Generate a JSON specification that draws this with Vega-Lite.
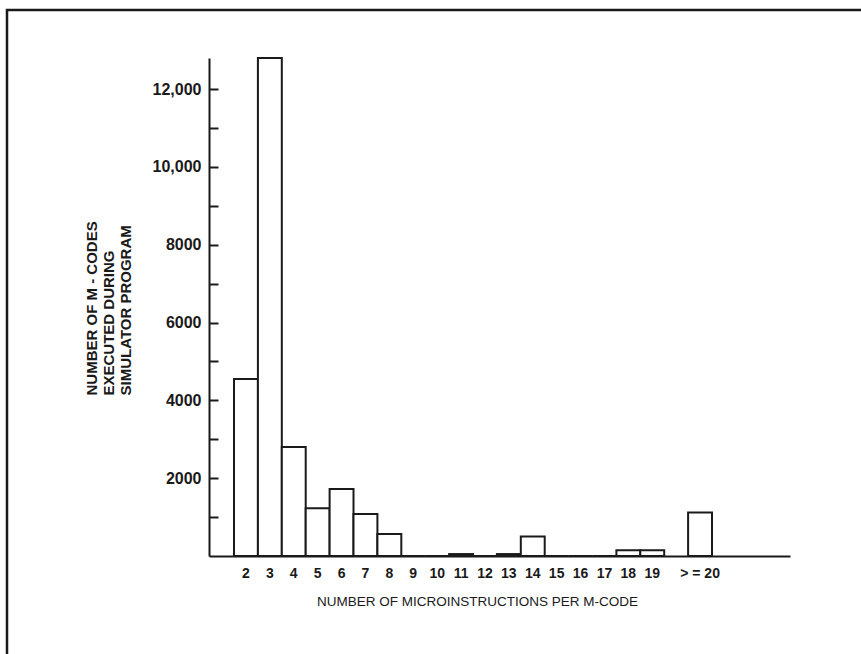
{
  "$schema": "https://vega.github.io/schema/vega-lite/v6.json",
  "width": 858,
  "height": 648,
  "autosize": "none",
  "padding": {"left": 7, "top": 10, "right": -4, "bottom": -4},
  "background": "white",
  "config": {
    "view": {"stroke": "#1a1a1a", "strokeWidth": 2.5},
    "font": "Liberation Sans"
  },
  "data": {
    "values": [
      {"m": "2", "n": 4550},
      {"m": "3", "n": 12800},
      {"m": "4", "n": 2800},
      {"m": "5", "n": 1230},
      {"m": "6", "n": 1720},
      {"m": "7", "n": 1080},
      {"m": "8", "n": 565},
      {"m": "9", "n": 0},
      {"m": "10", "n": 0},
      {"m": "11", "n": 50},
      {"m": "12", "n": 0},
      {"m": "13", "n": 50},
      {"m": "14", "n": 500},
      {"m": "15", "n": 0},
      {"m": "16", "n": 0},
      {"m": "17", "n": 0},
      {"m": "18", "n": 150},
      {"m": "19", "n": 150},
      {"m": "> = 20", "n": 1120}
    ]
  },
  "mark": {"type": "bar", "fill": "white", "stroke": "#1a1a1a", "strokeWidth": 2},
  "encoding": {
    "x": {
      "field": "m",
      "type": "ordinal",
      "sort": null,
      "scale": {
        "domain": ["  ","2","3","4","5","6","7","8","9","10","11","12","13","14","15","16","17","18","19"," ","> = 20","   ","    ","     "],
        "range": [202, 783],
        "paddingInner": 0,
        "paddingOuter": 0.155,
        "align": 0.15
      },
      "axis": {
        "title": "NUMBER OF MICROINSTRUCTIONS PER M-CODE",
        "offset": -102,
        "ticks": false,
        "domainColor": "#1a1a1a",
        "domainWidth": 2,
        "labelAngle": 0,
        "labelFontSize": 14,
        "labelFontWeight": "bold",
        "labelColor": "#1a1a1a",
        "labelPadding": 10,
        "titleFontSize": 13.5,
        "titleFontWeight": "normal",
        "titleColor": "#1a1a1a",
        "titlePadding": 14,
        "titleX": 470
      }
    },
    "y": {
      "field": "n",
      "type": "quantitative",
      "scale": {"domain": [0, 12800], "range": [546, 48], "nice": false},
      "axis": {
        "values": [1000,2000,3000,4000,5000,6000,7000,8000,9000,10000,11000,12000],
        "labelExpr": "datum.value % 2000 != 0 ? '' : (datum.value >= 10000 ? format(datum.value, ',') : format(datum.value, 'd'))",
        "labelOverlap": false,
        "offset": -202,
        "grid": false,
        "tickSize": -9,
        "tickWidth": 2,
        "tickColor": "#1a1a1a",
        "domainColor": "#1a1a1a",
        "domainWidth": 2,
        "labelFontSize": 16,
        "labelFontWeight": "bold",
        "labelColor": "#1a1a1a",
        "labelPadding": 17,
        "title": ["NUMBER OF M - CODES", "EXECUTED DURING", "SIMULATOR PROGRAM"],
        "titleFontSize": 15,
        "titleFontWeight": "bold",
        "titleColor": "#1a1a1a",
        "titleLineHeight": 17,
        "titleAlign": "left",
        "titleY": 385,
        "titlePadding": 19
      }
    }
  }
}
